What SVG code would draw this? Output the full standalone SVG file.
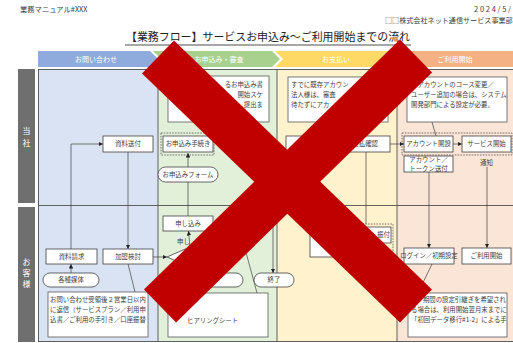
<svg xmlns="http://www.w3.org/2000/svg" width="513" height="343" viewBox="0 0 513 343">
<style>
text{font-family:"Noto Sans CJK JP","Noto Sans",sans-serif;fill:#404040}
.t{font-size:6.4px}
.c{text-anchor:middle}
.e{text-anchor:end}
.w{fill:#fff;font-size:7px}
.box{fill:#fff;stroke:#404040;stroke-width:0.8}
.note{fill:#fff;stroke:#595959;stroke-width:0.8}
.dash{fill:none;stroke:#404040;stroke-width:0.7;stroke-dasharray:1.6 1.2}
.ln{fill:none;stroke:#404040;stroke-width:0.7}
.arr{fill:none;stroke:#404040;stroke-width:0.7;marker-end:url(#ah)}
.grid{stroke:#505050;stroke-width:0.9;fill:none}
.lab{fill:#6f6f6f}
.lt{fill:#fff;font-size:8px;text-anchor:middle}
.x{stroke:#c00000;stroke-width:46;stroke-linecap:butt}
</style>
<defs>
<marker id="ah" viewBox="0 0 6 6" refX="6" refY="3" markerUnits="userSpaceOnUse" markerWidth="4.5" markerHeight="4.5" orient="auto"><path d="M0,0 L6,3 L0,6 z" fill="#222"/></marker>
</defs>
<rect width="513" height="343" fill="#fff"/>
<g id="header">
<text x="20" y="12" style="font-size:7.3px">業務マニュアル#XXX</text>
<text x="474" y="12" style="font-size:7.5px" textLength="37">2024/5/</text>
<text x="385" y="23" style="font-size:7.1px">□□株式会社ネット通信サービス事業部</text>
<text x="126" y="41" style="font-size:11px;fill:#222" textLength="284" lengthAdjust="spacingAndGlyphs">【業務フロー】サービスお申込み～ご利用開始までの流れ</text>
<line x1="125" y1="45" x2="411" y2="45" stroke="#222" stroke-width="0.8"/>
</g>
<g id="phases">
<polygon points="38,51 150,51 158,59 150,67 38,67" fill="#8faadc"/>
<polygon points="153,51 272,51 280,59 272,67 153,67 161,59" fill="#a9d18e"/>
<polygon points="275,51 390,51 398,59 390,67 275,67 283,59" fill="#ffd966"/>
<polygon points="393,51 513,51 513,67 393,67 401,59" fill="#f4b183"/>
<text class="w c" x="96" y="61.5">お問い合わせ</text>
<text class="w c" x="219" y="61.5">お申込み・審査</text>
<text class="w c" x="336" y="61.5">お支払い</text>
<text class="w c" x="455" y="61.5">ご利用開始</text>
</g>
<g id="lanes">
<rect x="38" y="69" width="120" height="273" fill="#dae3f3"/>
<rect x="158" y="69" width="119" height="273" fill="#e2f0d9"/>
<rect x="277" y="69" width="120" height="273" fill="#fff2cc"/>
<rect x="397" y="69" width="116" height="273" fill="#fbe5d6"/>
<rect class="lab" x="18" y="69" width="17" height="134"/>
<rect class="lab" x="18" y="207" width="17" height="135"/>
<text class="lt" x="26.5" y="134">当</text>
<text class="lt" x="26.5" y="146">社</text>
<text class="lt" x="26.5" y="265">お</text>
<text class="lt" x="26.5" y="276">客</text>
<text class="lt" x="26.5" y="287">様</text>
<path class="grid" d="M38,69.5 H513 M38,205.5 H513 M38,341.5 H513 M38.5,69 V342 M158,69 V342 M277,69 V342 M397,69 V342"/>
</g>
<g id="connectors">
<path class="arr" d="M71,249 V144 H103"/>
<path class="arr" d="M71,273 V264"/>
<path class="arr" d="M128,152 V249"/>
<path class="ln" d="M128,264 L135,292"/>
<path class="arr" d="M153,257 H167"/>
<path class="arr" d="M188,216 V153"/>
<path class="arr" d="M190,247 L188.5,231"/>
<path class="arr" d="M273,160 V273"/>
<path class="ln" d="M244,245 L257,293"/>
<path class="ln" d="M366,152 V224"/>
<path class="arr" d="M390,144 H404"/>
<path class="arr" d="M453,144 H462"/>
<path class="ln" d="M432,122 L436,136"/>
<path class="arr" d="M429,172 V248"/>
<path class="arr" d="M487,167 V248"/>
<path class="ln" d="M432,264 L418,293"/>
</g>
<g id="n-note-green">
<rect class="note" x="168" y="76" width="101" height="46"/>
<text class="t e" x="263" y="86.5">るお申込み書</text>
<text class="t e" x="263" y="96.5">開始スケ</text>
<text class="t e" x="263" y="106.5">提出ま</text>
</g>
<g id="n-note-yellow">
<rect class="note" x="288" y="77" width="100" height="45"/>
<text class="t" x="291" y="86.5">すでに既存アカウン</text>
<text class="t" x="291" y="96.5">法人様は、審査</text>
<text class="t" x="291" y="106.5">待たずにアカ</text>
</g>
<g id="n-note-orange">
<rect class="note" x="407" y="77" width="100" height="45"/>
<text class="t" x="417.4" y="86.5">アカウントのコース変更／</text>
<text class="t" x="411" y="96.5">ユーザー追加の場合は、システム</text>
<text class="t" x="411" y="106.5">開発部門による設定が必要。</text>
</g>
<g id="n-shiryo-soufu">
<rect class="box" x="103" y="136" width="50" height="16"/>
<text class="t c" x="128" y="146.3">資料送付</text>
</g>
<g id="n-moushikomi-tetsuzuki">
<rect class="dash" x="161" y="133" width="53" height="22"/>
<rect class="box" x="163" y="136" width="50" height="16"/>
<text class="t c" x="188" y="146.3">お申込み手続き</text>
</g>
<g id="n-form">
<rect class="box" x="158" y="167" width="60" height="15" rx="7.5"/>
<text class="t c" x="188" y="176.8">お申込みフォーム</text>
</g>
<g id="n-shiharai-kakunin">
<rect class="box" x="286" y="136" width="104" height="16"/>
<text class="t e" x="378" y="146.3">支払確認</text>
</g>
<g id="n-account">
<rect class="dash" x="402" y="133" width="110" height="22"/>
<rect class="box" x="404" y="136" width="49" height="16"/>
<text class="t c" x="428.5" y="146.3">アカウント開設</text>
<rect class="box" x="462" y="136" width="49" height="16"/>
<text class="t c" x="486.5" y="146.3">サービス開始</text>
</g>
<g id="n-token">
<rect class="box" x="404" y="156" width="49" height="16"/>
<text class="t c" x="428.5" y="162">アカウント／</text>
<text class="t c" x="428.5" y="170.5">トークン送付</text>
<text class="t c" x="486.5" y="165">通知</text>
</g>
<g id="n-shiryo-seikyu">
<rect class="box" x="46" y="249" width="51" height="15"/>
<text class="t c" x="71.5" y="258.8">資料請求</text>
</g>
<g id="n-baitai">
<rect class="box" x="43" y="273" width="56" height="14" rx="7"/>
<text class="t c" x="71" y="282.3">各種媒体</text>
</g>
<g id="n-kamei">
<rect class="box" x="103" y="249" width="50" height="15"/>
<text class="t c" x="128" y="258.8">加盟検討</text>
</g>
<g id="n-note-blue">
<rect class="note" x="48" y="292" width="100" height="45"/>
<text class="t" x="50" y="301.5">お問い合わせ受領後２営業日以内</text>
<text class="t" x="50" y="311.5">に返信（サービスプラン／利用申</text>
<text class="t" x="50" y="321.5">込書／ご利用の手引き／口座振替</text>
</g>
<g id="n-moushikomi">
<rect class="box" x="163" y="216" width="50" height="15"/>
<text class="t c" x="188" y="225.8">申し込み</text>
<text class="t" x="177" y="244">申し</text>
</g>
<g id="n-diamond">
<polygon class="box" points="167,257 190,247 213,257 190,267"/>
</g>
<g id="n-result">
<rect class="box" x="163" y="273" width="80" height="14" rx="7"/>
</g>
<g id="n-end">
<rect class="box" x="254" y="273" width="40" height="14" rx="7"/>
<text class="t c" x="274" y="282.3">終了</text>
</g>
<g id="n-note-green2">
<rect class="note" x="168" y="293" width="100" height="44"/>
<text class="t" x="187" y="322.5">ヒアリングシート</text>
</g>
<g id="n-yellow-low">
<rect class="box" x="310" y="220" width="30" height="37"/>
<rect class="dash" x="340" y="224" width="53" height="28"/>
<rect class="box" x="343" y="227" width="48" height="16"/>
<text class="t e" x="390" y="237.3">振付</text>
</g>
<g id="n-login">
<rect class="box" x="404" y="248" width="50" height="16"/>
<text class="t c" x="429" y="258.3">ログイン／初期設定</text>
</g>
<g id="n-riyou-kaishi">
<rect class="box" x="462" y="248" width="49" height="16"/>
<text class="t c" x="486.5" y="258.3">ご利用開始</text>
</g>
<g id="n-note-orange2">
<rect class="note" x="408" y="293" width="99" height="44"/>
<text class="t e" x="506" y="301.5">期間の設定引継ぎを希望され</text>
<text class="t" x="411" y="311.5">る場合は、利用開始翌月末までに</text>
<text class="t" x="411" y="321.5">「初回データ移行#1-2」による手</text>
</g>
<g id="cross">
<line class="x" x1="158" y1="57" x2="416" y2="306"/>
<line class="x" x1="416" y1="56" x2="160" y2="306"/>
</g>
</svg>
